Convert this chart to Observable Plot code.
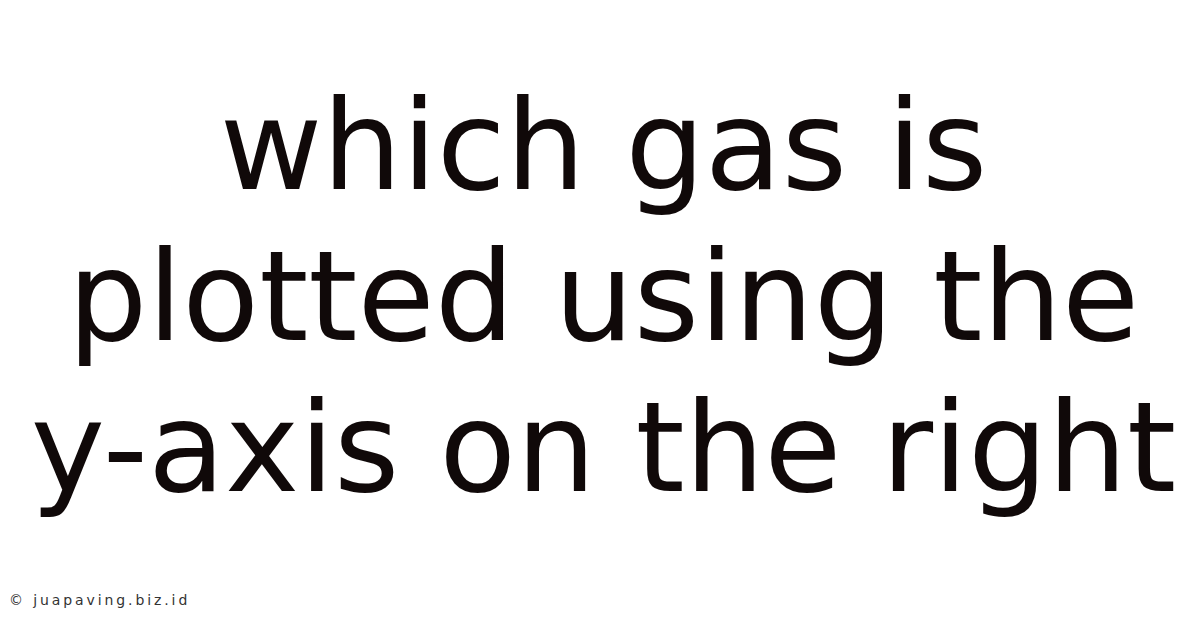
<!DOCTYPE html>
<html>
<head>
<meta charset="utf-8">
<script src="https://cdn.jsdelivr.net/npm/d3@7"></script>
<script src="https://cdn.jsdelivr.net/npm/@observablehq/plot@0.6"></script>
<style>
  html, body { margin: 0; padding: 0; background: #ffffff; }
  #chart { position: relative; width: 1200px; height: 628px; overflow: hidden; }
  #credit { position: absolute; left: 9px; top: 592px; font-family: "DejaVu Sans", sans-serif; font-size: 14px; color: #333333; letter-spacing: 2.9px; }
</style>
</head>
<body>
<div id="chart"></div>
<script>
const lines = ["which gas is", "plotted using the", "y-axis on the right"];
const lineIndex = [0, 1, 2];
const credit = "© juapaving.biz.id";

const data = lines.map((t, i) => ({text: t, row: lineIndex[i]}));

const plot = Plot.plot({
  width: 1200,
  height: 628,
  margin: 0,
  x: {domain: [0, 1], axis: null},
  y: {domain: [0, 2], range: [188, 490], axis: null},
  style: {background: "#ffffff"},
  marks: [
    Plot.text(data, {
      x: () => 0.5,
      y: "row",
      text: "text",
      textAnchor: "middle",
      lineAnchor: "bottom",
      dx: 3,
      fontSize: 125.5,
      fontFamily: "DejaVu Sans",
      fill: "#100909"
    })
  ]
});
const chart = document.getElementById("chart");
chart.appendChild(plot);
const c = document.createElement("div");
c.id = "credit";
c.textContent = credit;
chart.appendChild(c);
</script>
</body>
</html>
